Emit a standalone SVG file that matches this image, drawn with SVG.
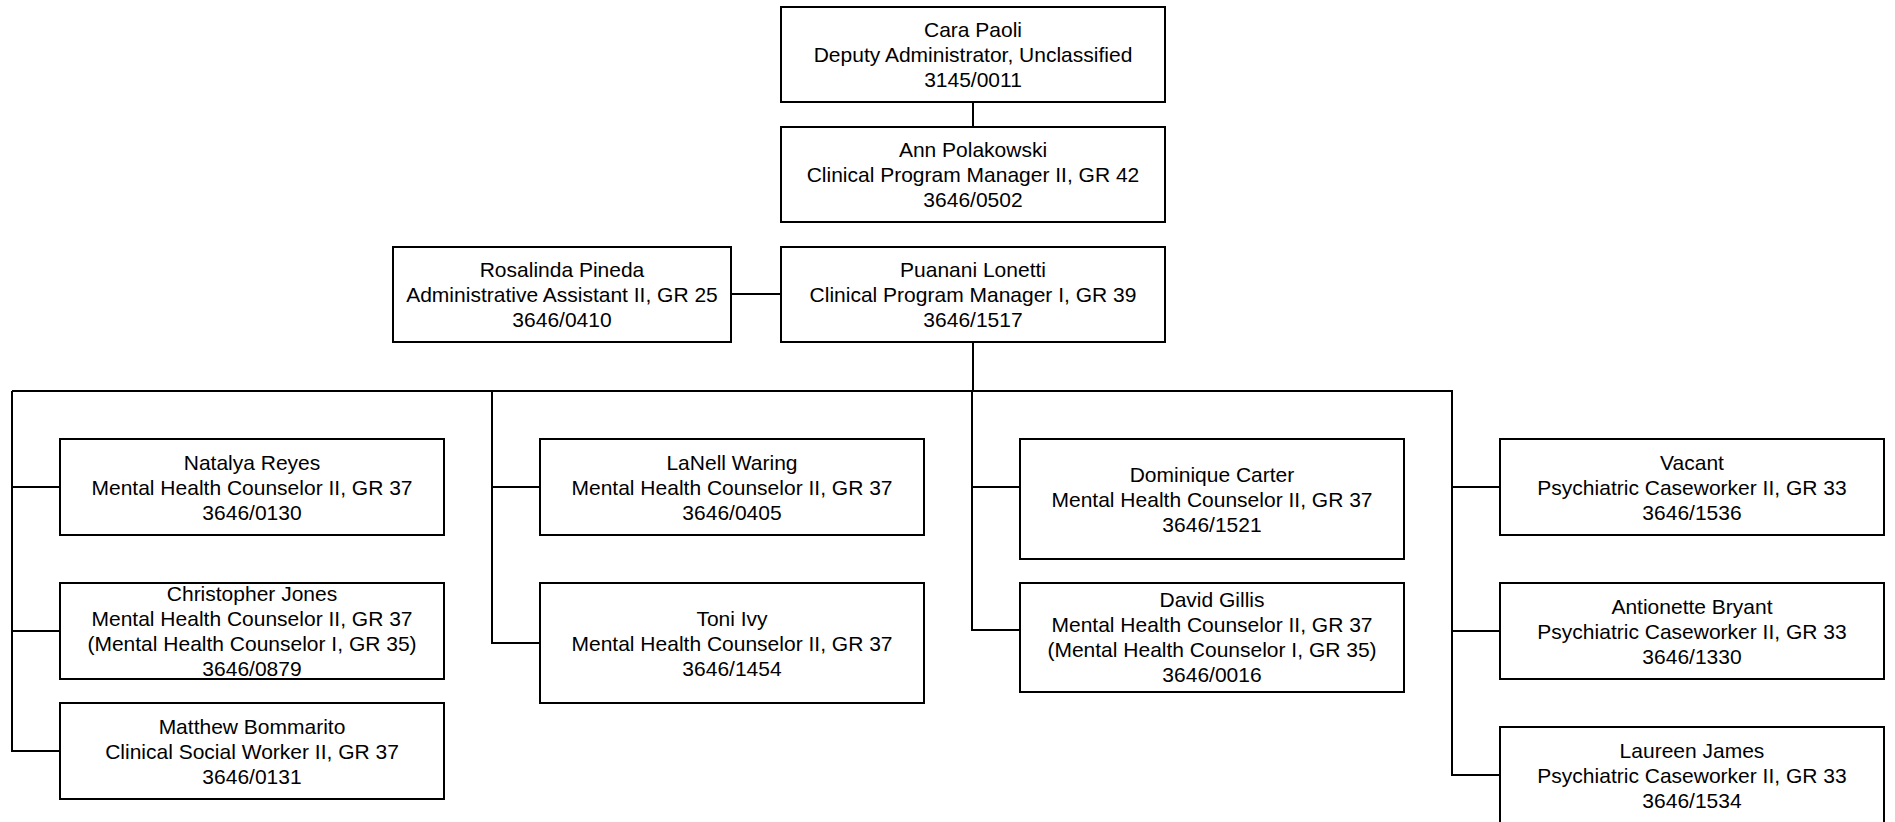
<svg xmlns="http://www.w3.org/2000/svg" width="1895" height="822" viewBox="0 0 1895 822">
<style>
.box{fill:#ffffff;stroke:#000000;stroke-width:2}
.t{font-family:"Liberation Sans",Arial,sans-serif;font-size:21px;fill:#000000;text-anchor:middle}
.c{fill:none;stroke:#000000;stroke-width:2}
</style>
<rect width="1895" height="822" fill="#ffffff"/>
<g id="connectors">
<line class="c" x1="973" y1="102" x2="973" y2="127"/>
<line class="c" x1="731" y1="294" x2="781" y2="294"/>
<line class="c" x1="973" y1="342" x2="973" y2="391"/>
<line class="c" x1="12" y1="391" x2="1453" y2="391"/>
<polyline class="c" points="12,391 12,751 60,751"/>
<line class="c" x1="12" y1="487" x2="60" y2="487"/>
<line class="c" x1="12" y1="631" x2="60" y2="631"/>
<polyline class="c" points="492,391 492,643 540,643"/>
<line class="c" x1="492" y1="487" x2="540" y2="487"/>
<polyline class="c" points="972,391 972,630 1020,630"/>
<line class="c" x1="972" y1="487" x2="1020" y2="487"/>
<polyline class="c" points="1452,391 1452,775 1500,775"/>
<line class="c" x1="1452" y1="487" x2="1500" y2="487"/>
<line class="c" x1="1452" y1="631" x2="1500" y2="631"/>
</g>
<g id="cara">
<rect class="box" x="781" y="7" width="384" height="95"/>
<text class="t" x="973" y="37">Cara Paoli</text>
<text class="t" x="973" y="62">Deputy Administrator, Unclassified</text>
<text class="t" x="973" y="87">3145/0011</text>
</g>
<g id="ann">
<rect class="box" x="781" y="127" width="384" height="95"/>
<text class="t" x="973" y="157">Ann Polakowski</text>
<text class="t" x="973" y="182">Clinical Program Manager II, GR 42</text>
<text class="t" x="973" y="207">3646/0502</text>
</g>
<g id="puanani">
<rect class="box" x="781" y="247" width="384" height="95"/>
<text class="t" x="973" y="277">Puanani Lonetti</text>
<text class="t" x="973" y="302">Clinical Program Manager I, GR 39</text>
<text class="t" x="973" y="327">3646/1517</text>
</g>
<g id="rosalinda">
<rect class="box" x="393" y="247" width="338" height="95"/>
<text class="t" x="562" y="277">Rosalinda Pineda</text>
<text class="t" x="562" y="302">Administrative Assistant II, GR 25</text>
<text class="t" x="562" y="327">3646/0410</text>
</g>
<g id="natalya">
<rect class="box" x="60" y="439" width="384" height="96"/>
<text class="t" x="252" y="469.5">Natalya Reyes</text>
<text class="t" x="252" y="494.5">Mental Health Counselor II, GR 37</text>
<text class="t" x="252" y="519.5">3646/0130</text>
</g>
<g id="christopher">
<rect class="box" x="60" y="583" width="384" height="96"/>
<text class="t" x="252" y="600.5">Christopher Jones</text>
<text class="t" x="252" y="625.5">Mental Health Counselor II, GR 37</text>
<text class="t" x="252" y="650.5">(Mental Health Counselor I, GR 35)</text>
<text class="t" x="252" y="675.5">3646/0879</text>
</g>
<g id="matthew">
<rect class="box" x="60" y="703" width="384" height="96"/>
<text class="t" x="252" y="733.5">Matthew Bommarito</text>
<text class="t" x="252" y="758.5">Clinical Social Worker II, GR 37</text>
<text class="t" x="252" y="783.5">3646/0131</text>
</g>
<g id="lanell">
<rect class="box" x="540" y="439" width="384" height="96"/>
<text class="t" x="732" y="469.5">LaNell Waring</text>
<text class="t" x="732" y="494.5">Mental Health Counselor II, GR 37</text>
<text class="t" x="732" y="519.5">3646/0405</text>
</g>
<g id="toni">
<rect class="box" x="540" y="583" width="384" height="120"/>
<text class="t" x="732" y="625.5">Toni Ivy</text>
<text class="t" x="732" y="650.5">Mental Health Counselor II, GR 37</text>
<text class="t" x="732" y="675.5">3646/1454</text>
</g>
<g id="dominique">
<rect class="box" x="1020" y="439" width="384" height="120"/>
<text class="t" x="1212" y="481.5">Dominique Carter</text>
<text class="t" x="1212" y="506.5">Mental Health Counselor II, GR 37</text>
<text class="t" x="1212" y="531.5">3646/1521</text>
</g>
<g id="david">
<rect class="box" x="1020" y="583" width="384" height="109"/>
<text class="t" x="1212" y="607">David Gillis</text>
<text class="t" x="1212" y="632">Mental Health Counselor II, GR 37</text>
<text class="t" x="1212" y="657">(Mental Health Counselor I, GR 35)</text>
<text class="t" x="1212" y="682">3646/0016</text>
</g>
<g id="vacant">
<rect class="box" x="1500" y="439" width="384" height="96"/>
<text class="t" x="1692" y="469.5">Vacant</text>
<text class="t" x="1692" y="494.5">Psychiatric Caseworker II, GR 33</text>
<text class="t" x="1692" y="519.5">3646/1536</text>
</g>
<g id="antionette">
<rect class="box" x="1500" y="583" width="384" height="96"/>
<text class="t" x="1692" y="613.5">Antionette Bryant</text>
<text class="t" x="1692" y="638.5">Psychiatric Caseworker II, GR 33</text>
<text class="t" x="1692" y="663.5">3646/1330</text>
</g>
<g id="laureen">
<rect class="box" x="1500" y="727" width="384" height="96"/>
<text class="t" x="1692" y="757.5">Laureen James</text>
<text class="t" x="1692" y="782.5">Psychiatric Caseworker II, GR 33</text>
<text class="t" x="1692" y="807.5">3646/1534</text>
</g>
</svg>
